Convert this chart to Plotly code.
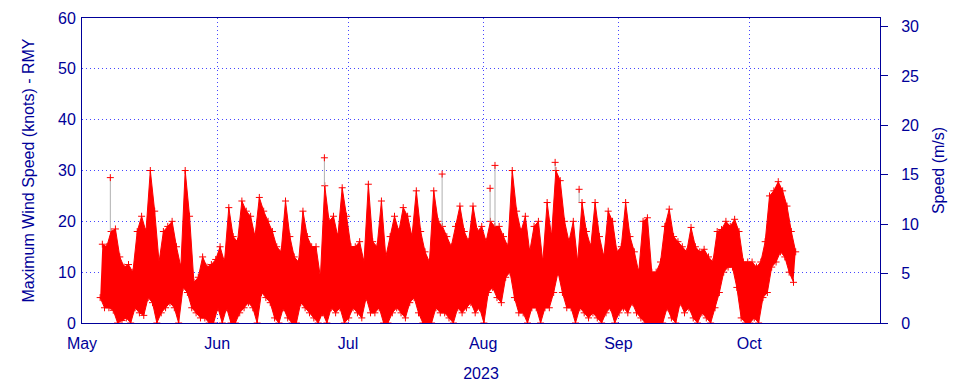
import plotly.graph_objects as go
import pandas as pd

# ---- data (knots): daily low / high envelope ----
start_day = "2023-05-05"
daily_high = [
    15.5, 15, 18, 18.5, 13, 11, 11.5, 10, 18, 21, 18, 30, 22, 12, 18, 19, 20, 15, 11, 30,
    21, 8, 9, 13, 11, 11.5, 12.5, 15, 12, 22.7, 17, 16, 24, 22, 21, 17, 24.7, 22, 20, 18,
    15, 14, 24, 17, 13, 12, 22, 17, 15, 15, 9, 27, 20, 21, 17, 26.6, 21, 15, 15, 16,
    12, 27.3, 16, 15, 24, 13, 17, 21, 18, 22.7, 21, 17, 26, 18, 14, 12, 26, 20, 19, 17,
    15, 19, 23, 18, 16, 23, 18, 19, 16, 20, 19, 19, 17, 15, 30, 22, 18, 21, 14, 19,
    20, 12, 23.7, 17, 30, 28, 20, 16, 20, 12, 23.7, 18, 15, 23.7, 17, 13, 22, 20, 14, 15,
    23.7, 17, 14, 10, 20, 20.7, 10, 10, 12, 19, 22.4, 17, 16, 15, 14, 18.8, 15, 14, 14.5, 13,
    12, 18, 18.4, 20, 19, 20.4, 18, 12, 12, 12, 11, 12, 16, 25, 26, 27.8, 26, 23, 18, 14,
]
daily_low = [
    5, 3, 3, 2.5, 0, 0.5, 1, 0, 3, 2, 1.5, 5, 4, 0, 2, 3, 4, 3, 0, 7,
    6, 3, 2, 1, 1, 0, 0, 3, 0, 3, 0, 0, 2, 3, 4, 3, 0, 6, 5, 4,
    1, 0, 3, 1, 0, 0, 4, 3, 2, 1, 0, 2, 0, 3, 2, 3, 0, 1, 3, 2,
    1, 5, 2, 2, 3, 0, 0, 2, 3, 2, 1, 4, 5, 2, 0, 0, 0, 3, 2, 2,
    1, 0, 3, 2, 3, 4, 2, 3, 0, 6, 7, 5, 4, 9, 10, 5, 2, 2, 0, 3,
    3, 0, 3, 3, 6, 10, 6, 3, 3, 0, 3, 2, 1, 2, 1, 0, 2, 3, 0, 2,
    3, 2, 4, 2, 1, 0, 0, 0, 0, 0, 3, 1, 0, 4, 2, 3, 1, 0, 2, 1,
    0, 3, 6, 10, 11, 11, 7, 1, 0, 0, 1, 0, 5, 6, 11, 12, 14, 13, 10, 8,
]
# isolated gusts (thin grey spikes above the band)
spike_times = ["2023-05-07 12:00", "2023-06-25 14:00", "2023-07-22 14:00",
               "2023-08-02 14:00", "2023-08-03 17:00", "2023-08-17 12:00",
               "2023-08-23 00:00"]
spike_base = [18, 27, 19, 20, 19, 30, 23.7]
spike_peak = [28.6, 32.5, 29.3, 26.5, 31, 31.6, 26.3]

month_labels = ["May", "Jun", "Jul", "Aug", "Sep", "Oct"]
x_start, x_end = "2023-05-01", "2023-10-31"
KNOTS_PER_MS = 1.943844

days = pd.date_range(start_day, periods=len(daily_high), freq="D")
t_low = days + pd.Timedelta(hours=4)
t_high = days + pd.Timedelta(hours=16)

NAVY = "#000099"
GRID = "rgb(70,70,255)"
RED = "#ff0000"
marker = dict(symbol="cross-thin", size=5, line=dict(color=RED, width=1), color=RED)

fig = go.Figure()
fig.add_trace(go.Scatter(
    x=t_low, y=daily_low, mode="lines+markers",
    line=dict(color=RED, width=1), marker=marker, hoverinfo="x+y",
))
fig.add_trace(go.Scatter(
    x=t_high, y=daily_high, mode="lines+markers", fill="tonexty", fillcolor=RED,
    line=dict(color=RED, width=1), marker=marker, hoverinfo="x+y",
))
sx, sy = [], []
for t, b, p in zip(spike_times, spike_base, spike_peak):
    sx += [t, t, None]
    sy += [b, p, None]
fig.add_trace(go.Scatter(
    x=sx, y=sy, mode="lines", line=dict(color="#b0b0b0", width=1), hoverinfo="skip",
))
fig.add_trace(go.Scatter(
    x=spike_times, y=spike_peak, mode="markers", marker=marker, hoverinfo="x+y",
))
# helper trace so that the m/s axis is drawn
fig.add_trace(go.Scatter(
    x=[x_start, x_end], y=[0, 0], yaxis="y2", mode="markers",
    marker=dict(opacity=0), hoverinfo="skip",
))

month_ticks = pd.date_range(x_start, periods=len(month_labels), freq="MS")
title_font = dict(size=16, color=NAVY)

fig.update_layout(
    width=960, height=384,
    margin=dict(l=74, r=88, t=10, b=69),
    paper_bgcolor="white", plot_bgcolor="white",
    showlegend=False,
    font=dict(family="Liberation Sans, Arial, sans-serif", size=16, color=NAVY),
    xaxis=dict(
        type="date", range=[x_start, x_end], automargin=False,
        tickmode="array", tickvals=month_ticks, ticktext=month_labels,
        showgrid=True, gridcolor=GRID, griddash="1px,3px", gridwidth=1,
        showline=True, linecolor=NAVY, linewidth=1, mirror=True,
        ticks="outside", ticklen=6, tickcolor="rgba(0,0,0,0)", zeroline=False,
        title=dict(text="2023", standoff=16, font=title_font),
    ),
    yaxis=dict(
        range=[0, 60], dtick=10, tick0=0, automargin=False,
        showgrid=True, gridcolor=GRID, griddash="1px,3px", gridwidth=1,
        showline=True, linecolor=NAVY, linewidth=1, mirror=True,
        ticks="", zeroline=False, ticklabelstandoff=2,
        title=dict(text="Maximum Wind Speed (knots) - RMY", standoff=19, font=title_font),
    ),
    yaxis2=dict(
        overlaying="y", side="right", automargin=False,
        range=[0, 60 / KNOTS_PER_MS], dtick=5, tick0=0,
        showgrid=False, zeroline=False,
        showline=True, linecolor=NAVY, linewidth=1,
        ticks="outside", ticklen=7, tickcolor=NAVY, ticklabelstandoff=10,
        title=dict(text="Speed (m/s)", standoff=14, font=title_font),
    ),
)

fig.write_html("out.html")
